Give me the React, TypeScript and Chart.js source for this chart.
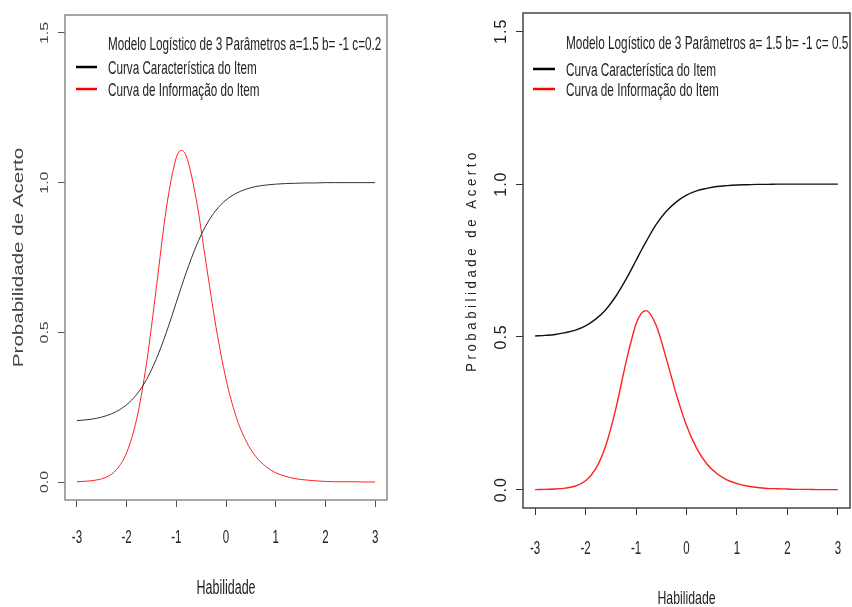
import React, { useEffect, useRef } from "react";
import { Chart, registerables } from "chart.js";

Chart.register(...registerables);

// ---- data ----
const THETA = [-3, -2.8, -2.6, -2.4, -2.2, -2.0, -1.8, -1.6, -1.4, -1.2, -1.0, -0.9, -0.8, -0.6, -0.4, -0.2, 0, 0.2, 0.4, 0.6, 0.8, 1.0, 1.2, 1.4, 1.6, 1.8, 2.0, 2.2, 2.4, 2.6, 2.8, 3.0];

const LEFT_CCI = [0.205, 0.208, 0.213, 0.222, 0.236, 0.258, 0.292, 0.342, 0.412, 0.5, 0.6, 0.651, 0.7, 0.788, 0.858, 0.908, 0.942, 0.964, 0.978, 0.987, 0.992, 0.995, 0.997, 0.998, 0.999, 0.999, 1, 1, 1, 1, 1, 1];
const LEFT_INFO = [0.001, 0.003, 0.007, 0.017, 0.042, 0.098, 0.209, 0.396, 0.652, 0.915, 1.084, 1.108, 1.089, 0.945, 0.73, 0.517, 0.344, 0.22, 0.138, 0.085, 0.052, 0.031, 0.019, 0.011, 0.007, 0.004, 0.002, 0.001, 0.001, 0.001, 0, 0];

const RIGHT_CCI = [0.503, 0.505, 0.508, 0.514, 0.522, 0.536, 0.558, 0.589, 0.633, 0.688, 0.75, 0.782, 0.812, 0.868, 0.911, 0.942, 0.964, 0.978, 0.986, 0.992, 0.995, 0.997, 0.998, 0.999, 0.999, 1, 1, 1, 1, 1, 1, 1];
const RIGHT_INFO = [0, 0.001, 0.002, 0.005, 0.012, 0.029, 0.068, 0.144, 0.265, 0.416, 0.542, 0.576, 0.586, 0.537, 0.429, 0.311, 0.21, 0.136, 0.085, 0.053, 0.032, 0.02, 0.012, 0.007, 0.004, 0.003, 0.002, 0.001, 0.001, 0, 0, 0];

const X_TICKS = [-3, -2, -1, 0, 1, 2, 3];
const X_TICK_LABELS = ["-3", "-2", "-1", "0", "1", "2", "3"];
const Y_TICKS = [0, 0.5, 1, 1.5];
const Y_TICK_LABELS = ["0.0", "0.5", "1.0", "1.5"];

const X_TITLE = "Habilidade";
const Y_TITLE = "Probabilidade de Acerto";
const LEGEND_LEFT = "Modelo Logístico de 3 Parâmetros a=1.5 b= -1 c=0.2";
const LEGEND_RIGHT = "Modelo Logístico de 3 Parâmetros a= 1.5 b= -1 c= 0.5";
const SERIES_NAMES = ["Curva Característica do Item", "Curva de Informação do Item"];

const FAMILY = "'Liberation Sans', Arial, sans-serif";
const TICK = 7;

type TextOpt = { size: number; sx?: number; sy?: number; rot?: boolean; align?: CanvasTextAlign; color?: string; ls?: number };

function drawText(ctx: CanvasRenderingContext2D, text: string, x: number, y: number, o: TextOpt) {
  ctx.save();
  ctx.translate(x, y);
  ctx.scale(o.sx ?? 1, o.sy ?? 1);
  if (o.rot) ctx.rotate(-Math.PI / 2);
  ctx.font = `${o.size}px ${FAMILY}`;
  ctx.textAlign = o.align ?? "center";
  ctx.textBaseline = "alphabetic";
  (ctx as any).letterSpacing = `${o.ls ?? 0}px`;
  ctx.fillStyle = o.color ?? "#222";
  ctx.fillText(text, 0, (0.716 * o.size) / 2);
  ctx.restore();
}

type Panel = {
  cci: number[];
  info: number[];
  legendTitle: string;
  padding: { left: number; right: number; top: number; bottom: number };
  boxColor: string;
  boxWidth: number;
  tickColor: string;
  curveWidth: number;
  curveBlack: string;
  xLab: TextOpt & { dy: number };
  xTitle: TextOpt & { dy: number };
  yLab: TextOpt & { dx: number };
  yTitle: TextOpt & { dx: number };
  legend: { lineX0: number; lineX1: number; textX: number; y: number[]; text: TextOpt; lineWidth: number };
};

const PANELS: Panel[] = [
  {
    cci: LEFT_CCI,
    info: LEFT_INFO,
    legendTitle: LEGEND_LEFT,
    padding: { left: 65 - TICK, right: 426 - 387, top: 15, bottom: 607 - 500 - TICK },
    boxColor: "#8a8a8a",
    boxWidth: 1.5,
    tickColor: "#555",
    curveWidth: 1,
    curveBlack: "#333",
    xLab: { size: 11.5, sy: 1.55, dy: 37 },
    xTitle: { size: 12.5, sy: 1.55, dy: 87 },
    yLab: { size: 11, sy: 1.45, rot: true, color: "#444", dx: -21 },
    yTitle: { size: 15, sy: 1.37, rot: true, color: "#444", dx: -47 },
    legend: { lineX0: 11, lineX1: 32, textX: 43, y: [28, 52, 74], text: { size: 11.7, sy: 1.6, align: "left" }, lineWidth: 2.5 },
  },
  {
    cci: RIGHT_CCI,
    info: RIGHT_INFO,
    legendTitle: LEGEND_RIGHT,
    padding: { left: 523 - 426 - TICK, right: 426 - (850 - 426), top: 13, bottom: 607 - 508 - TICK },
    boxColor: "#444",
    boxWidth: 1.5,
    tickColor: "#333",
    curveWidth: 1.4,
    curveBlack: "#111",
    xLab: { size: 11.5, sy: 1.55, dy: 40 },
    xTitle: { size: 12.3, sy: 1.55, dy: 89 },
    yLab: { size: 16, sy: 1.0, rot: true, ls: 1, dx: -23 },
    yTitle: { size: 15.5, sy: 0.85, rot: true, ls: 4.2, dx: -53 },
    legend: { lineX0: 10, lineX1: 32, textX: 43, y: [29, 56, 76], text: { size: 11.8, sy: 1.6, align: "left" }, lineWidth: 2.5 },
  },
];

function makeDecorPlugin(p: Panel) {
  return {
    id: "rdecor",
    afterDraw(chart: any) {
      const ctx: CanvasRenderingContext2D = chart.ctx;
      const a = chart.chartArea;
      const xs = chart.scales.x;
      const ys = chart.scales.y;
      ctx.save();
      ctx.strokeStyle = p.boxColor;
      ctx.lineWidth = p.boxWidth;
      ctx.strokeRect(a.left, a.top, a.right - a.left, a.bottom - a.top);
      ctx.restore();

      X_TICKS.forEach((v, i) => {
        drawText(ctx, X_TICK_LABELS[i], xs.getPixelForValue(v), a.bottom + p.xLab.dy, p.xLab);
      });
      Y_TICKS.forEach((v, i) => {
        drawText(ctx, Y_TICK_LABELS[i], a.left + p.yLab.dx, ys.getPixelForValue(v), p.yLab);
      });
      drawText(ctx, X_TITLE, (a.left + a.right) / 2, a.bottom + p.xTitle.dy, p.xTitle);
      drawText(ctx, Y_TITLE, a.left + p.yTitle.dx, (a.top + a.bottom) / 2, p.yTitle);

      const lg = p.legend;
      drawText(ctx, p.legendTitle, a.left + lg.textX, a.top + lg.y[0], lg.text);
      const colors = ["#000", "#ff0000"];
      SERIES_NAMES.forEach((name, i) => {
        const yy = a.top + lg.y[i + 1];
        ctx.save();
        ctx.strokeStyle = colors[i];
        ctx.lineWidth = lg.lineWidth;
        ctx.beginPath();
        ctx.moveTo(a.left + lg.lineX0, yy);
        ctx.lineTo(a.left + lg.lineX1, yy);
        ctx.stroke();
        ctx.restore();
        drawText(ctx, name, a.left + lg.textX, yy, lg.text);
      });
    },
  };
}

function PanelChart({ p, left }: { p: Panel; left: number }) {
  const ref = useRef<HTMLCanvasElement | null>(null);
  useEffect(() => {
    if (!ref.current) return;
    const chart = new Chart(ref.current, {
      type: "line",
      data: {
        datasets: [
          {
            label: SERIES_NAMES[0],
            data: THETA.map((t, i) => ({ x: t, y: p.cci[i] })),
            borderColor: p.curveBlack,
            borderWidth: p.curveWidth,
            pointRadius: 0,
            cubicInterpolationMode: "monotone",
            fill: false,
          },
          {
            label: SERIES_NAMES[1],
            data: THETA.map((t, i) => ({ x: t, y: p.info[i] })),
            borderColor: "#ff2020",
            borderWidth: p.curveWidth,
            pointRadius: 0,
            cubicInterpolationMode: "monotone",
            fill: false,
          },
        ],
      },
      options: {
        animation: false,
        responsive: false,
        maintainAspectRatio: false,
        layout: { padding: p.padding },
        plugins: { legend: { display: false }, tooltip: { enabled: false } },
        events: [],
        scales: {
          x: {
            type: "linear",
            min: -3.24,
            max: 3.24,
            afterBuildTicks: (s: any) => {
              s.ticks = X_TICKS.map((v) => ({ value: v }));
            },
            afterFit: (s: any) => {
              s.height = TICK;
            },
            ticks: { display: false },
            border: { display: false },
            grid: { drawOnChartArea: false, drawTicks: true, tickLength: TICK, tickColor: p.tickColor, lineWidth: 1 },
          },
          y: {
            type: "linear",
            min: -0.06,
            max: 1.56,
            afterBuildTicks: (s: any) => {
              s.ticks = Y_TICKS.map((v) => ({ value: v }));
            },
            afterFit: (s: any) => {
              s.width = TICK;
            },
            ticks: { display: false },
            border: { display: false },
            grid: { drawOnChartArea: false, drawTicks: true, tickLength: TICK, tickColor: p.tickColor, lineWidth: 1 },
          },
        },
      },
      plugins: [makeDecorPlugin(p)],
    } as any);
    return () => chart.destroy();
  }, [p]);
  return (
    <canvas
      ref={ref}
      width={426}
      height={607}
      style={{ position: "absolute", left, top: 0, width: 426, height: 607 }}
    />
  );
}

export default function App() {
  return (
    <div style={{ position: "absolute", left: 0, top: 0, width: 852, height: 607, background: "#fff", overflow: "hidden" }}>
      <PanelChart p={PANELS[0]} left={0} />
      <PanelChart p={PANELS[1]} left={426} />
    </div>
  );
}
